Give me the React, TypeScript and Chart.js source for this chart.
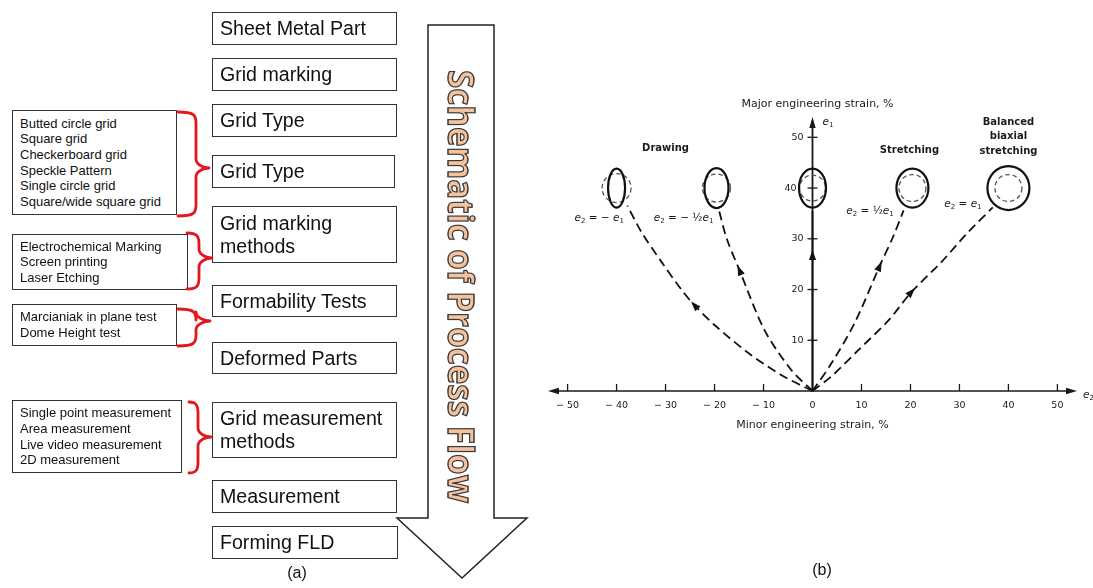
import React, { useEffect, useRef } from "react";
import { Chart, registerables } from "chart.js";

Chart.register(...registerables);

// ---------------- (b) chart data ----------------
const xTickValues = [-50, -40, -30, -20, -10, 0, 10, 20, 30, 40, 50];
const xTickLabels = ["− 50", "− 40", "− 30", "− 20", "− 10", "0", "10", "20", "30", "40", "50"];
const yTickValues = [10, 20, 30, 40, 50];
const yTickLabels = ["10", "20", "30", "40", "50"];

// strain paths (minor e2, major e1), in %
const drawingFullX = [0, -6.3, -13.1, -20, -24.1, -26.7, -30.8, -34.9, -37.8];
const drawingFullY = [0, 3.1, 7.5, 13, 16.9, 19.9, 25.4, 31.3, 36.5];
const drawingHalfX = [0, -4.3, -9.8, -14.9, -17.5, -19.2];
const drawingHalfY = [0, 4.1, 12, 23.8, 30, 36];
const planeX = [0, 0, 0];
const planeY = [0, 26.8, 35.5];
const stretchX = [0, 3.9, 8.6, 13.7, 16.5, 18.6];
const stretchY = [0, 5.5, 13.4, 24.6, 30.5, 35.6];
const biaxialX = [0, 4, 9.4, 15.5, 20.2, 26.3, 31.5, 36.8];
const biaxialY = [0, 3, 8.1, 13.9, 19.5, 25.4, 31, 36.2];
// index of the arrow head on each path
const arrowIndex = [4, 3, 1, 3, 4];

// grid circle centres (deformed ellipse + original circle)
const circleX = [-40, -19.6, 0, 20.4, 40];
const circleY = [40, 40, 40, 40, 40];

// ---------------- (a) diagram data ----------------
const stepLabels = [
  ["Sheet Metal Part"],
  ["Grid marking"],
  ["Grid Type"],
  ["Grid Type"],
  ["Grid marking", "methods"],
  ["Formability Tests"],
  ["Deformed Parts"],
  ["Grid measurement", "methods"],
  ["Measurement"],
  ["Forming FLD"],
];
const optionLists = [
  ["Butted circle grid", "Square grid", "Checkerboard grid", "Speckle Pattern", "Single circle grid", "Square/wide square grid"],
  ["Electrochemical Marking", "Screen printing", "Laser Etching"],
  ["Marcianiak in plane test", "Dome Height test"],
  ["Single point measurement", "Area measurement", "Live video measurement", "2D measurement"],
];

// ---------------- layout / style ----------------
const stepBoxes = [
  { top: 12, h: 33, w: 185 },
  { top: 58, h: 33, w: 185 },
  { top: 104, h: 33, w: 185 },
  { top: 155, h: 33, w: 183 },
  { top: 206, h: 57, w: 185 },
  { top: 285, h: 32, w: 185 },
  { top: 342, h: 32, w: 185 },
  { top: 402, h: 56, w: 185 },
  { top: 480, h: 33, w: 185 },
  { top: 526, h: 33, w: 186 },
];
const optionBoxes = [
  { top: 110, h: 105, w: 165 },
  { top: 234, h: 56, w: 176 },
  { top: 304, h: 42, w: 165 },
  { top: 400, h: 73, w: 170 },
];
const braces = [
  { x0: 178, yT: 112, yB: 216, xm: 196, xt: 209, ym: 168 },
  { x0: 187, yT: 233, yB: 289, xm: 199, xt: 212, ym: 258 },
  { x0: 178, yT: 309, yB: 346, xm: 196, xt: 210, ym: 321 },
  { x0: 189, yT: 402, yB: 473, xm: 198, xt: 211, ym: 437 },
];
const ellipseStyle = [
  { rx: 8.5, ry: 19.5, r: 14.5 },
  { rx: 12, ry: 20, r: 14 },
  { rx: 13.5, ry: 19.5, r: 13 },
  { rx: 16, ry: 19.5, r: 13.5 },
  { rx: 21, ry: 22, r: 13.5 },
];
// pixel gap between y axis and each y tick label
const yLabelGap = [9, 9, 9, 16, 9];

const FONT = '"DejaVu Sans", sans-serif';

function bracePath(b: any) {
  const { x0, yT, yB, xm, xt, ym } = b;
  return `M ${x0} ${yT} C ${xm - 2} ${yT} ${xm} ${yT + 3} ${xm} ${yT + 11} L ${xm} ${ym - 9} C ${xm} ${ym - 3} ${xt - 5} ${ym} ${xt} ${ym} C ${xt - 5} ${ym} ${xm} ${ym + 3} ${xm} ${ym + 9} L ${xm} ${yB - 11} C ${xm} ${yB - 3} ${xm - 2} ${yB} ${x0} ${yB}`;
}

function arrowHead(ctx: CanvasRenderingContext2D, x: number, y: number, ang: number, len: number, half: number, centered: boolean) {
  ctx.save();
  ctx.translate(x, y);
  ctx.rotate(ang);
  const tip = centered ? len / 2 : 0;
  ctx.beginPath();
  ctx.moveTo(tip, 0);
  ctx.lineTo(tip - len, -half);
  ctx.lineTo(tip - len, half);
  ctx.closePath();
  ctx.fill();
  ctx.restore();
}

function drawRich(ctx: CanvasRenderingContext2D, parts: [string, string][], x: number, y: number, size: number) {
  let cx = x;
  ctx.textAlign = "left";
  ctx.textBaseline = "middle";
  for (const [t, s] of parts) {
    if (s === "i") ctx.font = `italic ${size}px ${FONT}`;
    else if (s === "sub") ctx.font = `${Math.round(size * 0.7)}px ${FONT}`;
    else ctx.font = `${size}px ${FONT}`;
    const dy = s === "sub" ? size * 0.32 : 0;
    ctx.fillText(t, cx, y + dy);
    cx += ctx.measureText(t).width;
  }
}

const pathsX = [drawingFullX, drawingHalfX, planeX, stretchX, biaxialX];
const pathsY = [drawingFullY, drawingHalfY, planeY, stretchY, biaxialY];

const fldPlugin = {
  id: "fldOverlay",
  beforeDatasetsDraw(chart: any) {
    const ctx: CanvasRenderingContext2D = chart.ctx;
    const sx = chart.scales.x;
    const sy = chart.scales.y;
    const x0 = sx.getPixelForValue(0);
    const y0 = sy.getPixelForValue(0);
    const left = sx.getPixelForValue(sx.min);
    const right = sx.getPixelForValue(sx.max);
    const top = sy.getPixelForValue(sy.max);
    ctx.save();
    ctx.strokeStyle = "#1a1a1a";
    ctx.fillStyle = "#1a1a1a";
    ctx.lineWidth = 1.5;
    // x axis
    ctx.beginPath();
    ctx.moveTo(left + 4, y0);
    ctx.lineTo(right - 4, y0);
    ctx.stroke();
    arrowHead(ctx, left, y0, Math.PI, 11, 3.2, false);
    arrowHead(ctx, right, y0, 0, 11, 3.2, false);
    // y axis
    ctx.lineWidth = 1.8;
    ctx.beginPath();
    ctx.moveTo(x0, y0);
    ctx.lineTo(x0, top + 4);
    ctx.stroke();
    arrowHead(ctx, x0, top, -Math.PI / 2, 11, 3.2, false);
    // ticks
    ctx.lineWidth = 1.3;
    xTickValues.forEach((v) => {
      if (v === 0) return;
      const px = sx.getPixelForValue(v);
      ctx.beginPath();
      ctx.moveTo(px, y0);
      ctx.lineTo(px, y0 - 7);
      ctx.stroke();
    });
    yTickValues.forEach((v) => {
      const py = sy.getPixelForValue(v);
      ctx.beginPath();
      ctx.moveTo(x0 - 5, py);
      ctx.lineTo(x0 + 5, py);
      ctx.stroke();
    });
    // tick labels
    ctx.fillStyle = "#1a1a1a";
    ctx.font = `9.5px ${FONT}`;
    ctx.textBaseline = "middle";
    ctx.textAlign = "center";
    xTickValues.forEach((v, i) => {
      ctx.fillText(xTickLabels[i], sx.getPixelForValue(v), y0 + 15);
    });
    // axis titles
    ctx.font = `11px ${FONT}`;
    ctx.textAlign = "center";
    ctx.fillText("Major engineering strain, %", x0 + 5, top - 13);
    ctx.fillText("Minor engineering strain, %", x0, y0 + 34);
    drawRich(ctx, [["e", "i"], ["1", "sub"]], x0 + 10, top + 5, 10.5);
    drawRich(ctx, [["e", "i"], ["2", "sub"]], right + 6, y0 + 4, 10.5);
    ctx.restore();
  },
  afterDatasetsDraw(chart: any) {
    const ctx: CanvasRenderingContext2D = chart.ctx;
    const sx = chart.scales.x;
    const sy = chart.scales.y;
    const x0 = sx.getPixelForValue(0);
    ctx.save();
    // circles / ellipses
    circleX.forEach((cxv, i) => {
      const cx = sx.getPixelForValue(cxv);
      const cy = sy.getPixelForValue(circleY[i]);
      const st = ellipseStyle[i];
      ctx.setLineDash([4.5, 3]);
      ctx.lineWidth = 1.3;
      ctx.strokeStyle = "#555";
      ctx.beginPath();
      ctx.arc(cx, cy, st.r, 0, Math.PI * 2);
      ctx.stroke();
      ctx.setLineDash([]);
      ctx.lineWidth = 2.2;
      ctx.strokeStyle = "#111";
      ctx.beginPath();
      ctx.ellipse(cx, cy, st.rx, st.ry, 0, 0, Math.PI * 2);
      ctx.stroke();
    });
    // y tick labels
    ctx.fillStyle = "#1a1a1a";
    ctx.font = `9.5px ${FONT}`;
    ctx.textBaseline = "middle";
    ctx.textAlign = "right";
    yTickValues.forEach((v, i) => {
      ctx.fillText(yTickLabels[i], x0 - yLabelGap[i], sy.getPixelForValue(v));
    });
    // arrow heads on strain paths
    ctx.fillStyle = "#111";
    pathsX.forEach((xs, p) => {
      const ys = pathsY[p];
      const k = arrowIndex[p];
      const a = { x: sx.getPixelForValue(xs[k - 1]), y: sy.getPixelForValue(ys[k - 1]) };
      const b = { x: sx.getPixelForValue(xs[k + 1]), y: sy.getPixelForValue(ys[k + 1]) };
      const ang = Math.atan2(b.y - a.y, b.x - a.x);
      arrowHead(ctx, sx.getPixelForValue(xs[k]), sy.getPixelForValue(ys[k]), ang, 10, 3.6, true);
    });
    // labels
    ctx.fillStyle = "#1a1a1a";
    ctx.font = `bold 10px ${FONT}`;
    ctx.textAlign = "center";
    ctx.textBaseline = "middle";
    ctx.fillText("Drawing", sx.getPixelForValue(-30), sy.getPixelForValue(47.9));
    ctx.fillText("Stretching", sx.getPixelForValue(19.8), sy.getPixelForValue(47.5));
    ctx.fillText("Balanced", sx.getPixelForValue(40), sy.getPixelForValue(53));
    ctx.fillText("biaxial", sx.getPixelForValue(40), sy.getPixelForValue(50.2));
    ctx.fillText("stretching", sx.getPixelForValue(40), sy.getPixelForValue(47.3));
    const eqSize = 10.5;
    drawRich(ctx, [["e", "i"], ["2", "sub"], [" = − ", "n"], ["e", "i"], ["1", "sub"]], sx.getPixelForValue(-48.6), sy.getPixelForValue(34.1), eqSize);
    drawRich(ctx, [["e", "i"], ["2", "sub"], [" = − ½", "n"], ["e", "i"], ["1", "sub"]], sx.getPixelForValue(-32.4), sy.getPixelForValue(34.1), eqSize);
    drawRich(ctx, [["e", "i"], ["2", "sub"], [" = ½", "n"], ["e", "i"], ["1", "sub"]], sx.getPixelForValue(6.9), sy.getPixelForValue(35.5), eqSize);
    drawRich(ctx, [["e", "i"], ["2", "sub"], [" = ", "n"], ["e", "i"], ["1", "sub"]], sx.getPixelForValue(26.9), sy.getPixelForValue(36.9), eqSize);
    ctx.restore();
  },
};

function FLDChart() {
  const ref = useRef<HTMLCanvasElement | null>(null);
  useEffect(() => {
    if (!ref.current) return;
    const mk = (xs: number[], ys: number[], dashed: boolean) => ({
      data: xs.map((x, i) => ({ x, y: ys[i] })),
      showLine: true,
      borderColor: "#111",
      borderWidth: 1.8,
      borderDash: dashed ? [9, 5] : [],
      pointRadius: 0,
      tension: 0.3,
      fill: false,
      clip: false as any,
    });
    const chart = new Chart(ref.current, {
      type: "scatter",
      data: {
        datasets: [
          mk(drawingFullX, drawingFullY, true),
          mk(drawingHalfX, drawingHalfY, true),
          mk(planeX, planeY, false),
          mk(stretchX, stretchY, true),
          mk(biaxialX, biaxialY, true),
        ] as any,
      },
      options: {
        responsive: false,
        animation: false,
        events: [],
        layout: { padding: { left: 548, right: 16, top: 117, bottom: 197 } },
        plugins: { legend: { display: false }, tooltip: { enabled: false } },
        scales: {
          x: { type: "linear", min: -54, max: 54, display: false },
          y: { type: "linear", min: 0, max: 54, display: false },
        },
      },
      plugins: [fldPlugin],
    });
    return () => chart.destroy();
  }, []);
  return (
    <canvas
      ref={ref}
      width={1093}
      height={588}
      style={{ position: "absolute", left: 0, top: 0, width: 1093, height: 588 }}
    />
  );
}

function ProcessDiagram() {
  return (
    <div style={{ position: "absolute", left: 0, top: 0, width: 1093, height: 588, fontFamily: '"Liberation Sans", Arial, sans-serif', color: "#111" }}>
      {stepLabels.map((lines, i) => {
        const b = stepBoxes[i];
        return (
          <div
            key={"s" + i}
            style={{
              position: "absolute",
              left: 212,
              top: b.top,
              width: b.w,
              height: b.h,
              boxSizing: "border-box",
              border: "1px solid #333",
              background: "#fff",
              display: "flex",
              flexDirection: "column",
              justifyContent: "center",
              paddingLeft: 7,
              fontSize: 19.6,
              lineHeight: "23px",
              whiteSpace: "nowrap",
            }}
          >
            {lines.map((l, j) => (
              <div key={j}>{l}</div>
            ))}
          </div>
        );
      })}
      {optionLists.map((lines, i) => {
        const b = optionBoxes[i];
        return (
          <div
            key={"o" + i}
            style={{
              position: "absolute",
              left: 12,
              top: b.top,
              width: b.w,
              height: b.h,
              boxSizing: "border-box",
              border: "1px solid #333",
              background: "#fff",
              display: "flex",
              flexDirection: "column",
              justifyContent: "center",
              paddingLeft: 7,
              fontSize: 13,
              lineHeight: "15.6px",
              whiteSpace: "nowrap",
            }}
          >
            {lines.map((l, j) => (
              <div key={j}>{l}</div>
            ))}
          </div>
        );
      })}
      <svg width={1093} height={588} style={{ position: "absolute", left: 0, top: 0 }}>
        {braces.map((b, i) => (
          <path key={i} d={bracePath(b)} fill="none" stroke="#e3161d" strokeWidth={2.8} strokeLinecap="round" strokeLinejoin="round" />
        ))}
        <polygon
          points="428,25 494,25 494,518 527,518 462,578 397,518 428,518"
          fill="#fff"
          stroke="#222"
          strokeWidth={1.5}
        />
        <text
          transform="translate(448,70) rotate(90)"
          x={0}
          y={0}
          fontFamily='"Open Sans", "Noto Sans", sans-serif'
          fontWeight="bold"
          fontSize={36}
          textLength={433}
          lengthAdjust="spacingAndGlyphs"
          fill="#f5c29c"
          stroke="#3a3a3a"
          strokeWidth={1.3}
        >
          Schematic of Process Flow
        </text>
      </svg>
      <div style={{ position: "absolute", left: 260, top: 564, width: 74, textAlign: "center", fontSize: 16 }}>(a)</div>
      <div style={{ position: "absolute", left: 785, top: 561, width: 74, textAlign: "center", fontSize: 16 }}>(b)</div>
    </div>
  );
}

export default function App() {
  return (
    <div style={{ position: "absolute", left: 0, top: 0, width: 1093, height: 588, background: "#fff" }}>
      <FLDChart />
      <ProcessDiagram />
    </div>
  );
}
